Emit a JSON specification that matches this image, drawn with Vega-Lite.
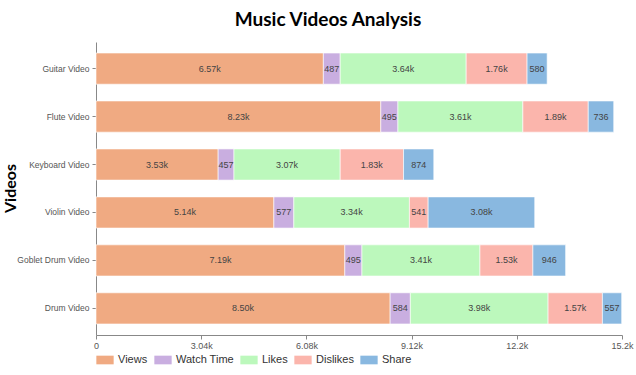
{
  "$schema": "https://vega.github.io/schema/vega-lite/v6.json",
  "width": 526,
  "height": 293,
  "autosize": {"type": "none"},
  "padding": {"left": 96, "top": 42, "right": 14, "bottom": 40},
  "background": "white",
  "title": {"text": "Music Videos Analysis", "font": "Lato", "fontSize": 19, "fontWeight": "bold", "color": "#000", "anchor": "middle", "dx": -31, "offset": 12},
  "config": {"view": {"stroke": null}, "font": "Liberation Sans"},
  "data": {"values": [
    {"video": "Guitar Video", "metric": "Views", "value": 6570},
    {"video": "Guitar Video", "metric": "Watch Time", "value": 487},
    {"video": "Guitar Video", "metric": "Likes", "value": 3640},
    {"video": "Guitar Video", "metric": "Dislikes", "value": 1760},
    {"video": "Guitar Video", "metric": "Share", "value": 580},
    {"video": "Flute Video", "metric": "Views", "value": 8230},
    {"video": "Flute Video", "metric": "Watch Time", "value": 495},
    {"video": "Flute Video", "metric": "Likes", "value": 3610},
    {"video": "Flute Video", "metric": "Dislikes", "value": 1890},
    {"video": "Flute Video", "metric": "Share", "value": 736},
    {"video": "Keyboard Video", "metric": "Views", "value": 3530},
    {"video": "Keyboard Video", "metric": "Watch Time", "value": 457},
    {"video": "Keyboard Video", "metric": "Likes", "value": 3070},
    {"video": "Keyboard Video", "metric": "Dislikes", "value": 1830},
    {"video": "Keyboard Video", "metric": "Share", "value": 874},
    {"video": "Violin Video", "metric": "Views", "value": 5140},
    {"video": "Violin Video", "metric": "Watch Time", "value": 577},
    {"video": "Violin Video", "metric": "Likes", "value": 3340},
    {"video": "Violin Video", "metric": "Dislikes", "value": 541},
    {"video": "Violin Video", "metric": "Share", "value": 3080},
    {"video": "Goblet Drum Video", "metric": "Views", "value": 7190},
    {"video": "Goblet Drum Video", "metric": "Watch Time", "value": 495},
    {"video": "Goblet Drum Video", "metric": "Likes", "value": 3410},
    {"video": "Goblet Drum Video", "metric": "Dislikes", "value": 1530},
    {"video": "Goblet Drum Video", "metric": "Share", "value": 946},
    {"video": "Drum Video", "metric": "Views", "value": 8500},
    {"video": "Drum Video", "metric": "Watch Time", "value": 584},
    {"video": "Drum Video", "metric": "Likes", "value": 3980},
    {"video": "Drum Video", "metric": "Dislikes", "value": 1570},
    {"video": "Drum Video", "metric": "Share", "value": 557}
  ]},
  "transform": [
    {"calculate": "indexof(['Views','Watch Time','Likes','Dislikes','Share'], datum.metric)", "as": "ord"},
    {"stack": "value", "groupby": ["video"], "sort": [{"field": "ord", "order": "ascending"}], "as": ["v0", "v1"]},
    {"calculate": "(datum.v0 + datum.v1) / 2", "as": "mid"}
  ],
  "encoding": {
    "y": {
      "field": "video", "type": "nominal", "sort": null,
      "scale": {"paddingInner": 0.35, "paddingOuter": 0.23},
      "axis": {"title": "Videos", "titleFont": "Lato", "titleFontSize": 16, "titleFontWeight": "bold", "titleColor": "#000",
               "titleX": -86, "titleY": 146, "titleAngle": -90, "titleAlign": "center", "titleBaseline": "middle",
               "labelFontSize": 8.5, "labelColor": "#555", "domainColor": "#888", "tickColor": "#888", "tickSize": 4, "labelPadding": 3, "grid": false}
    }
  },
  "layer": [
    {
      "mark": {"type": "bar", "stroke": "white", "strokeWidth": 0.6},
      "encoding": {
        "x": {"field": "v0", "type": "quantitative",
              "scale": {"domain": [0, 15200], "nice": false},
              "axis": {"title": null, "values": [0, 3040, 6080, 9120, 12160, 15200],
                       "labelExpr": "datum.value == 0 ? '0' : format(datum.value, '.3s')",
                       "labelFontSize": 9, "labelColor": "#555", "domainColor": "#888", "tickColor": "#888", "tickSize": 4, "grid": false, "labelFlush": false}},
        "x2": {"field": "v1"},
        "color": {"field": "metric", "type": "nominal",
                  "scale": {"domain": ["Views", "Watch Time", "Likes", "Dislikes", "Share"],
                            "range": ["#F0AA82", "#C9AEE0", "#BCF8BC", "#FBB5AC", "#89B8E0"]},
                  "legend": {"title": null, "orient": "none", "legendX": 0, "legendY": 309, "direction": "horizontal",
                             "symbolType": "M-1,-0.5L1,-0.5L1,0.5L-1,0.5Z", "symbolSize": 300, "symbolStrokeWidth": 0,
                             "labelFontSize": 11, "labelColor": "#333", "columnPadding": 6, "symbolOffset": 0, "labelOffset": 4}}
      }
    },
    {
      "mark": {"type": "text", "fontSize": 9, "color": "#444"},
      "encoding": {
        "x": {"field": "mid", "type": "quantitative"},
        "text": {"field": "value", "type": "quantitative", "format": ".3s"}
      }
    }
  ]
}
